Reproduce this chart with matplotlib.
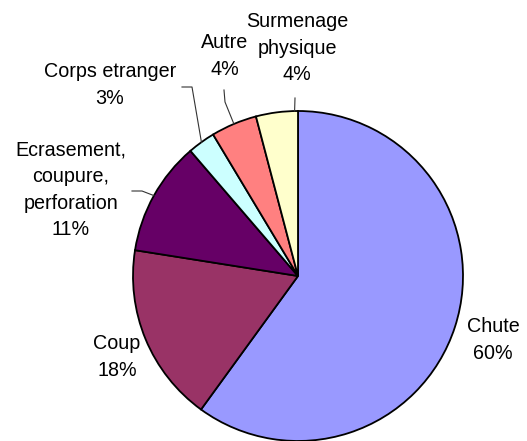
import numpy as np
import matplotlib
matplotlib.use("Agg")
import matplotlib.pyplot as plt

plt.rcParams['font.family'] = ['Liberation Sans', 'DejaVu Sans']

# data (clockwise from top)
categories = ['Chute', 'Coup', 'Ecrasement,\ncoupure,\nperforation', 'Corps etranger',
              'Autre', 'Surmenage\nphysique']
values = [60.0, 17.5, 11.2, 2.7, 4.5, 4.1]
pct_labels = ['60%', '18%', '11%', '3%', '4%', '4%']
colors = ['#9999FF', '#993366', '#660066', '#CCFFFF', '#FF8080', '#FFFFCC']

W, H = 527, 441
fig = plt.figure(figsize=(W / 100, H / 100), dpi=100)
ax = fig.add_axes([0, 0, 1, 1])

cx, cy, r = 298, H - 276, 165
wedges, _ = ax.pie(values, colors=colors, startangle=90, counterclock=False,
                   center=(cx, cy), radius=r, frame=True,
                   wedgeprops=dict(edgecolor='black', linewidth=1.3))
ax.set_xlim(0, W)
ax.set_ylim(0, H)
ax.set_aspect('equal')
ax.axis('off')

# label positions in pixels (x, y from top)
label_pos = [(493, 340), (117, 357), (71, 190), (110, 85), (225, 56), (297, 48)]
fs = 14.2
for name, pct, (x, y) in zip(categories, pct_labels, label_pos):
    ax.text(x, H - y, name + '\n' + pct, ha='center', va='center', fontsize=fs,
            linespacing=1.5, color='black')

# leader lines for the small slices: (slice, knee points, where on the arc 0..1)
leaders = [
    (2, [(132, 191), (142, 191)], 0.5),
    (3, [(182, 87), (192, 87)], 0.5),
    (4, [(224, 90), (225, 102)], 0.5),
    (5, [(295, 98)], 0.08),
]
for i, pts, f in leaders:
    w = wedges[i]
    ang = np.deg2rad(w.theta1 + f * (w.theta2 - w.theta1))
    ex, ey = cx + r * np.cos(ang), cy + r * np.sin(ang)
    xs = [p[0] for p in pts] + [ex]
    ys = [H - p[1] for p in pts] + [ey]
    ax.plot(xs, ys, color='#333333', linewidth=0.8)

fig.savefig('out.png', dpi=100, facecolor='white')
